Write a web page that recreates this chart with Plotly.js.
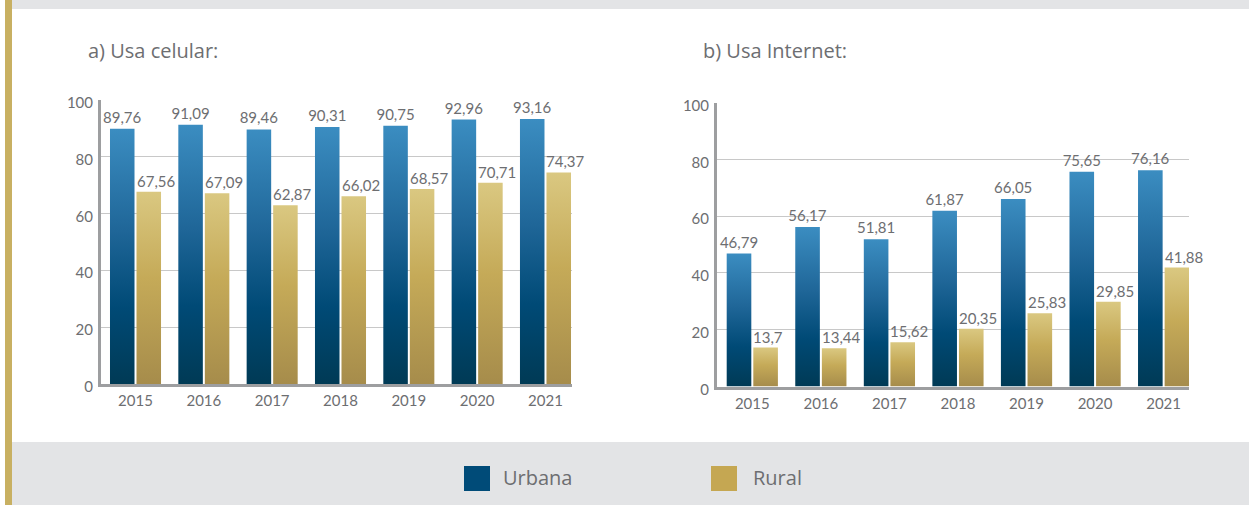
<!DOCTYPE html>
<html>
<head>
<meta charset="utf-8">
<script src="https://cdn.plot.ly/plotly-3.0.1.min.js"></script>
<style>
html,body{margin:0;padding:0;background:#fff;}
#chart{width:1249px;height:505px;}
</style>
</head>
<body>
<div id="chart"></div>
<script>
const years = ['2015','2016','2017','2018','2019','2020','2021'];
const celularUrbana = [89.76, 91.09, 89.46, 90.31, 90.75, 92.96, 93.16];
const celularRural  = [67.56, 67.09, 62.87, 66.02, 68.57, 70.71, 74.37];
const internetUrbana = [46.79, 56.17, 51.81, 61.87, 66.05, 75.65, 76.16];
const internetRural  = [13.7, 13.44, 15.62, 20.35, 25.83, 29.85, 41.88];
const yTicks = [0, 20, 40, 60, 80, 100];
const seriesNames = ['Urbana', 'Rural'];
const titles = ['a) Usa celular:', 'b) Usa Internet:'];

const W = 1249, H = 505;
const txtGray = '#6d6e71';
const fmt = v => String(v).replace('.', ',');
const px = x => x / W;
const py = y => (H - y) / H;
const labelFont = {family: 'Lato, sans-serif', size: 15, color: txtGray};

function barTrace(vals, name, color, xa, ya, withText) {
  const t = {
    type: 'bar', x: years, y: vals, name: name,
    xaxis: xa, yaxis: ya,
    marker: {color: color, line: {width: 0}},
    cliponaxis: false,
    hoverinfo: 'skip', showlegend: false
  };
  if (withText) {
    t.text = vals.map(fmt);
    t.textposition = 'outside';
    t.constraintext = 'none';
    t.textfont = labelFont;
  } else {
    t.textposition = 'none';
  }
  return t;
}

const data = [
  barTrace(celularUrbana, seriesNames[0], '#1f6a9c', 'x', 'y', true),
  barTrace(celularRural, seriesNames[1], '#c5a85a', 'x', 'y', false),
  barTrace(internetUrbana, seriesNames[0], '#1f6a9c', 'x2', 'y2', true),
  barTrace(internetRural, seriesNames[1], '#c5a85a', 'x2', 'y2', false)
];

// rural value labels: start at the left edge of the rural bar (as in the original)
function ruralLabels(vals, xr, yr) {
  return vals.map((v, i) => ({
    xref: xr, yref: yr, x: i, y: v,
    xanchor: 'left', yanchor: 'bottom', xshift: -1, yshift: 0,
    text: fmt(v), showarrow: false, font: labelFont
  }));
}

function xAxis(domain, anchor, range) {
  return {
    domain: domain, anchor: anchor, type: 'category', range: range,
    showgrid: false, zeroline: false,
    showline: true, linecolor: '#9d9ea0', linewidth: 3,
    ticks: '', ticklabelstandoff: 1,
    tickfont: {family: 'Lato, sans-serif', size: 15, color: txtGray},
    fixedrange: true
  };
}
function yAxis(domain, anchor) {
  return {
    domain: domain, anchor: anchor, range: [0, 100],
    tickvals: yTicks, ticktext: yTicks.map(String),
    showgrid: true, gridcolor: '#c8c8c8', gridwidth: 1,
    zeroline: false, showline: true, linecolor: '#9d9ea0', linewidth: 3,
    ticks: '', ticklabelstandoff: 2, ticklabelshift: 3,
    tickfont: {family: 'Lato, sans-serif', size: 15, color: txtGray},
    fixedrange: true
  };
}

const titleFont = {family: '"Open Sans", sans-serif', size: 20, color: txtGray};
const legFont = {family: '"Open Sans", sans-serif', size: 20, color: txtGray};

const layout = {
  width: W, height: H,
  margin: {l: 0, r: 0, t: 0, b: 0},
  paper_bgcolor: '#ffffff', plot_bgcolor: 'rgba(0,0,0,0)',
  barmode: 'group', bargap: 0.224, bargroupgap: 0.075,
  showlegend: false, hovermode: false,
  font: {family: 'Lato, sans-serif', color: txtGray},
  xaxis: xAxis([px(101), px(572)], 'y', [-0.505, 6.388]),
  yaxis: yAxis([py(384), py(99.5)], 'x'),
  xaxis2: xAxis([px(717), px(1189)], 'y2', [-0.515, 6.37]),
  yaxis2: yAxis([py(386.5), py(102.5)], 'x2'),
  shapes: [
    {type: 'rect', xref: 'paper', yref: 'paper', x0: px(12), x1: 1, y0: py(9), y1: 1,
     fillcolor: '#e3e4e6', line: {width: 0}, layer: 'below'},
    {type: 'rect', xref: 'paper', yref: 'paper', x0: px(12), x1: 1, y0: 0, y1: py(442),
     fillcolor: '#e3e4e6', line: {width: 0}, layer: 'below'},
    {type: 'rect', xref: 'paper', yref: 'paper', x0: px(5), x1: px(12), y0: 0, y1: 1,
     fillcolor: '#c8b062', line: {width: 0}, layer: 'below'},
    {type: 'rect', xref: 'paper', yref: 'paper', x0: px(464), x1: px(490), y0: py(491), y1: py(466),
     fillcolor: '#004b78', line: {width: 0}},
    {type: 'rect', xref: 'paper', yref: 'paper', x0: px(711), x1: px(737), y0: py(491), y1: py(466),
     fillcolor: '#c5a752', line: {width: 0}}
  ],
  annotations: [
    {xref: 'paper', yref: 'paper', x: px(86), y: py(51), xanchor: 'left', yanchor: 'middle',
     text: titles[0], showarrow: false, font: titleFont},
    {xref: 'paper', yref: 'paper', x: px(701), y: py(51), xanchor: 'left', yanchor: 'middle',
     text: titles[1], showarrow: false, font: titleFont},
    {xref: 'paper', yref: 'paper', x: px(501), y: py(477), xanchor: 'left', yanchor: 'middle',
     text: seriesNames[0], showarrow: false, font: legFont},
    {xref: 'paper', yref: 'paper', x: px(751), y: py(477), xanchor: 'left', yanchor: 'middle',
     text: seriesNames[1], showarrow: false, font: legFont}
  ].concat(ruralLabels(celularRural, 'x', 'y'), ruralLabels(internetRural, 'x2', 'y2'))
};

function applyGradients(gd) {
  const svg = gd.querySelector('.main-svg');
  const ns = 'http://www.w3.org/2000/svg';
  let defs = svg.querySelector('defs');
  if (!defs) { defs = document.createElementNS(ns, 'defs'); svg.insertBefore(defs, svg.firstChild); }
  function grad(id, stops) {
    const g = document.createElementNS(ns, 'linearGradient');
    g.setAttribute('id', id);
    g.setAttribute('x1', '0'); g.setAttribute('y1', '0');
    g.setAttribute('x2', '0'); g.setAttribute('y2', '1');
    stops.forEach(s => {
      const st = document.createElementNS(ns, 'stop');
      st.setAttribute('offset', s[0]);
      st.setAttribute('stop-color', s[1]);
      g.appendChild(st);
    });
    defs.appendChild(g);
  }
  grad('gradUrb', [[0, '#3b8dc1'], [0.4, '#1f6698'], [0.7, '#004a76'], [1, '#003a55']]);
  grad('gradRur', [[0, '#dac881'], [0.45, '#c5aa58'], [1, '#a68c4b']]);
  gd.querySelectorAll('.barlayer .trace').forEach(tr => {
    const d = tr.__data__;
    const t = d && d[0] && d[0].trace;
    const id = (t && t.name === seriesNames[1]) ? 'gradRur' : 'gradUrb';
    tr.querySelectorAll('.point path').forEach(p => { p.style.fill = 'url(#' + id + ')'; });
  });
}

Plotly.newPlot('chart', data, layout, {displayModeBar: false, staticPlot: true})
  .then(gd => applyGradients(gd));
</script>
</body>
</html>
